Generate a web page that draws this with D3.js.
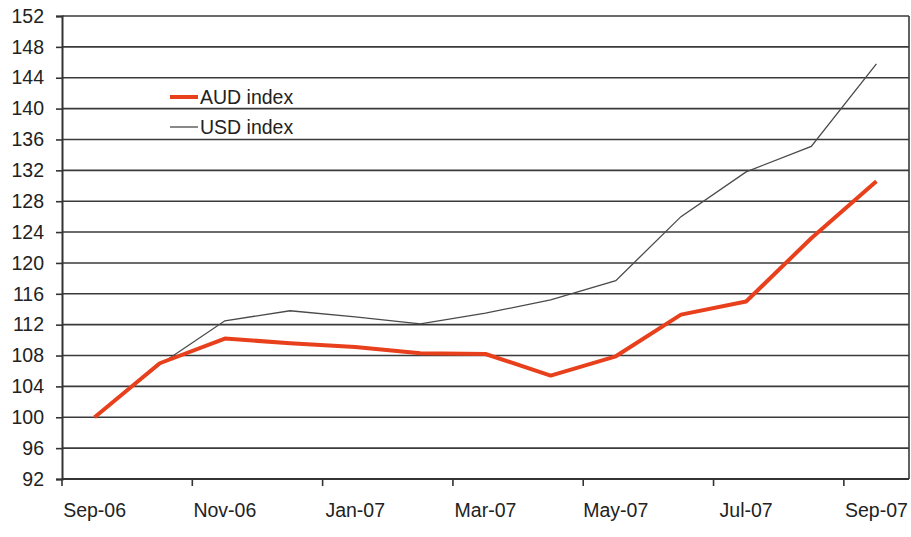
<!DOCTYPE html>
<html>
<head>
<meta charset="utf-8">
<script src="https://cdn.jsdelivr.net/npm/d3@7"></script>
<style>
  body { margin: 0; background: #fff; }
  text { font-family: "Liberation Sans", Arial, sans-serif; fill: #222; }
</style>
</head>
<body>
<div id="chart"></div>
<script>
const months = ["Sep-06", "Oct-06", "Nov-06", "Dec-06", "Jan-07", "Feb-07", "Mar-07",
    "Apr-07", "May-07", "Jun-07", "Jul-07", "Aug-07", "Sep-07"];
const audIndex = [100, 107.0, 110.2, 109.6, 109.1, 108.3, 108.2, 105.4, 107.9, 113.3, 115.0, 123.2, 130.6];
const usdIndex = [100, 106.8, 112.5, 113.8, 113.0, 112.1, 113.5, 115.2, 117.7, 126.0, 131.8, 135.1, 145.8];
const yTicks = d3.range(92, 153, 4);

const width = 911;
const height = 537;
const margin = { top: 16, right: 2, bottom: 58, left: 62 };

const svg = d3.select("#chart")
    .append("svg")
    .attr("width", width)
    .attr("height", height);

const x = d3.scaleBand()
    .domain(months)
    .range([margin.left, width - margin.right])
    .padding(0);

const y = d3.scaleLinear()
    .domain([92, 152])
    .range([height - margin.bottom, margin.top]);

// horizontal grid lines
svg.append("g")
    .selectAll("line")
    .data(yTicks)
    .enter()
    .append("line")
    .attr("x1", margin.left)
    .attr("x2", width - margin.right)
    .attr("y1", d => y(d))
    .attr("y2", d => y(d))
    .attr("stroke", "#3a3a3a")
    .attr("stroke-width", 1.6);

// right border
svg.append("line")
    .attr("x1", width - margin.right)
    .attr("x2", width - margin.right)
    .attr("y1", y(152))
    .attr("y2", y(92))
    .attr("stroke", "#3a3a3a")
    .attr("stroke-width", 1.6);

// y axis
const yAxis = svg.append("g")
    .attr("transform", `translate(${margin.left},0)`)
    .call(d3.axisLeft(y).tickValues(yTicks).tickSize(6).tickPadding(12));
yAxis.select(".domain").attr("stroke", "#333").attr("stroke-width", 2);
yAxis.selectAll(".tick line").attr("stroke", "#333").attr("stroke-width", 1.6);
yAxis.selectAll("text")
    .style("font-size", "19.5px")
    .attr("fill", "#222");

// x axis: ticks between categories every two months, labels centred
const xAxis = svg.append("g")
    .attr("transform", `translate(0,${y(92)})`);
xAxis.append("line")
    .attr("x1", margin.left)
    .attr("x2", width - margin.right)
    .attr("stroke", "#333")
    .attr("stroke-width", 2);
const labelled = months.filter((m, i) => i % 2 === 0);
xAxis.selectAll(".xtick")
    .data(labelled)
    .enter()
    .append("line")
    .attr("class", "xtick")
    .attr("x1", d => x(d))
    .attr("x2", d => x(d))
    .attr("y1", 0)
    .attr("y2", 7)
    .attr("stroke", "#333")
    .attr("stroke-width", 1.6);
xAxis.selectAll(".xlabel")
    .data(labelled)
    .enter()
    .append("text")
    .attr("class", "xlabel")
    .attr("x", d => x(d) + x.bandwidth() / 2)
    .attr("y", 38)
    .attr("text-anchor", "middle")
    .style("font-size", "19.5px")
    .text(d => d);

const line = d3.line()
    .x((d, i) => x(months[i]) + x.bandwidth() / 2)
    .y(d => y(d));

svg.append("path")
    .datum(usdIndex)
    .attr("fill", "none")
    .attr("stroke", "#4a4a4a")
    .attr("stroke-width", 1.3)
    .attr("d", line);

svg.append("path")
    .datum(audIndex)
    .attr("fill", "none")
    .attr("stroke", "#e8401c")
    .attr("stroke-width", 4)
    .attr("stroke-linejoin", "round")
    .attr("d", line);

// legend
const legend = [
    { name: "AUD index", color: "#e8401c", w: 4 },
    { name: "USD index", color: "#4a4a4a", w: 1.3 }
];
const lg = svg.append("g").attr("transform", "translate(170,97)");
legend.forEach((s, i) => {
    lg.append("line")
        .attr("x1", 0)
        .attr("x2", 28)
        .attr("y1", i * 30)
        .attr("y2", i * 30)
        .attr("stroke", s.color)
        .attr("stroke-width", s.w);
    lg.append("text")
        .attr("x", 30)
        .attr("y", i * 30 + 7)
        .style("font-size", "19.5px")
        .text(s.name);
});
</script>
</body>
</html>
